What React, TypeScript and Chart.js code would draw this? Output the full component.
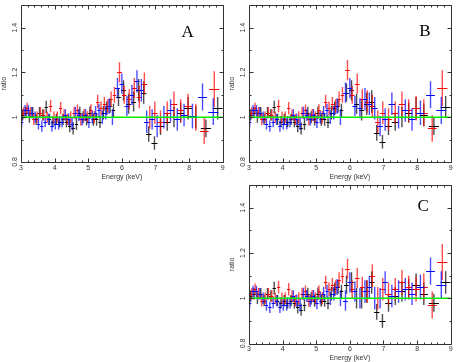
import React, { useEffect, useRef } from "react";
import { Chart, registerables } from "chart.js";

Chart.register(...registerables);

const FONT = '"Liberation Sans", Arial, sans-serif';

// axis ticks
const xTickValues = [3, 4, 5, 6, 7, 8, 9];
const xTickLabels = ["3", "4", "5", "6", "7", "8", "9"];
const yTickValues = [0.8, 1.0, 1.2, 1.4];
const yTickLabels = ["0.8", "1", "1.2", "1.4"];
const unityEnergy = [3, 9];
const unityRatio = [1, 1];

// black series
const blackEnergy = [3.05, 3.15, 3.25, 3.35, 3.45, 3.55, 3.65, 3.75, 3.85, 3.95, 4.05, 4.15, 4.25, 4.35, 4.45, 4.55, 4.65, 4.75, 4.85, 4.95, 5.05, 5.15, 5.25, 5.35, 5.45, 5.55, 5.65, 5.75, 5.9, 6.05, 6.2, 6.35, 6.5, 6.65, 6.8, 6.97, 7.15, 7.35, 7.55, 7.75, 7.97, 8.2, 8.5, 8.85];
const blackXErr = [0.05, 0.05, 0.05, 0.05, 0.05, 0.05, 0.05, 0.05, 0.05, 0.05, 0.05, 0.05, 0.05, 0.05, 0.05, 0.05, 0.05, 0.05, 0.05, 0.05, 0.05, 0.05, 0.05, 0.05, 0.05, 0.05, 0.05, 0.05, 0.07, 0.07, 0.07, 0.07, 0.08, 0.08, 0.08, 0.09, 0.1, 0.1, 0.1, 0.1, 0.12, 0.12, 0.15, 0.15];
const blackYErr = [0.025, 0.025, 0.025, 0.025, 0.025, 0.025, 0.025, 0.028, 0.025, 0.025, 0.025, 0.025, 0.025, 0.025, 0.027, 0.027, 0.027, 0.027, 0.027, 0.027, 0.028, 0.028, 0.028, 0.028, 0.03, 0.03, 0.03, 0.03, 0.04, 0.045, 0.045, 0.045, 0.05, 0.05, 0.035, 0.03, 0.04, 0.04, 0.045, 0.045, 0.05, 0.05, 0.04, 0.05];
const blackLowRatio = [1.01, 1.02, 1.0, 1.02, 0.99, 1.02, 1.01, 1.045, 0.99, 0.98, 0.99, 0.98, 0.99, 0.98, 0.96, 0.95, 0.97, 1.02, 1.0, 0.99, 1.02, 0.99, 0.99, 0.98, 1.02, 1.04, 1.05, 1.03];
const blackHighRatioA = [1.09, 1.12, 1.06, 1.07, 1.12, 1.11, 0.925, 0.885, 0.96, 0.98, 1.0, 1.02, 1.04, 1.0, 0.95, 1.04];
const blackHighRatioB = [1.11, 1.12, 1.06, 1.03, 1.06, 1.07, 0.93, 0.89, 0.96, 0.98, 1.0, 1.02, 1.04, 1.01, 0.96, 1.045];
const blackHighRatioC = [1.06, 1.07, 1.0, 1.0, 1.03, 1.07, 0.94, 0.9, 0.98, 1.01, 1.03, 1.04, 1.06, 1.02, 0.98, 1.07];

// red series
const redEnergy = [3.08, 3.18, 3.28, 3.38, 3.48, 3.58, 3.68, 3.78, 3.88, 3.98, 4.08, 4.18, 4.28, 4.38, 4.48, 4.58, 4.68, 4.78, 4.88, 4.98, 5.08, 5.18, 5.28, 5.38, 5.48, 5.58, 5.68, 5.78, 5.93, 6.07, 6.22, 6.37, 6.52, 6.67, 6.83, 6.98, 7.15, 7.35, 7.55, 7.75, 7.97, 8.2, 8.45, 8.75];
const redXErr = [0.05, 0.05, 0.05, 0.05, 0.05, 0.05, 0.05, 0.05, 0.05, 0.05, 0.05, 0.05, 0.05, 0.05, 0.05, 0.05, 0.05, 0.05, 0.05, 0.05, 0.05, 0.05, 0.05, 0.05, 0.05, 0.05, 0.05, 0.05, 0.07, 0.07, 0.07, 0.07, 0.08, 0.08, 0.08, 0.08, 0.1, 0.1, 0.1, 0.1, 0.12, 0.12, 0.13, 0.15];
const redYErr = [0.025, 0.025, 0.025, 0.025, 0.025, 0.025, 0.025, 0.025, 0.028, 0.025, 0.025, 0.028, 0.025, 0.025, 0.027, 0.027, 0.027, 0.027, 0.027, 0.027, 0.028, 0.028, 0.03, 0.03, 0.03, 0.03, 0.035, 0.035, 0.045, 0.04, 0.045, 0.045, 0.05, 0.05, 0.05, 0.05, 0.05, 0.05, 0.055, 0.05, 0.055, 0.06, 0.06, 0.08];
const redLowRatio = [1.02, 1.04, 1.02, 0.99, 1.0, 1.02, 1.01, 1.0, 1.05, 1.0, 1.0, 1.04, 1.01, 0.99, 1.0, 1.02, 1.03, 0.99, 1.01, 1.0, 1.03, 1.0, 1.07, 1.04, 1.06, 1.05, 1.08, 1.1];
const redHighRatioA = [1.2, 1.1, 1.08, 1.13, 1.09, 1.15, 1.0, 1.02, 0.98, 1.02, 1.06, 1.03, 1.05, 1.0, 0.94, 1.125];
const redHighRatioB = [1.21, 1.1, 1.15, 1.08, 1.07, 1.05, 0.98, 1.02, 0.99, 1.02, 1.06, 1.03, 1.04, 1.02, 0.95, 1.13];
const redHighRatioC = [1.13, 1.04, 1.09, 1.05, 1.03, 1.1, 1.0, 1.04, 1.02, 1.04, 1.07, 1.05, 1.04, 1.05, 0.97, 1.16];

// blue series
const blueEnergy = [3.02, 3.12, 3.22, 3.32, 3.42, 3.52, 3.62, 3.72, 3.82, 3.92, 4.02, 4.12, 4.22, 4.32, 4.42, 4.52, 4.62, 4.72, 4.82, 4.92, 5.02, 5.12, 5.22, 5.32, 5.42, 5.52, 5.62, 5.72, 5.87, 6.0, 6.15, 6.3, 6.45, 6.58, 6.74, 6.9, 7.05, 7.25, 7.45, 7.65, 7.85, 8.1, 8.4, 8.72];
const blueXErr = [0.05, 0.05, 0.05, 0.05, 0.05, 0.05, 0.05, 0.05, 0.05, 0.05, 0.05, 0.05, 0.05, 0.05, 0.05, 0.05, 0.05, 0.05, 0.05, 0.05, 0.05, 0.05, 0.05, 0.05, 0.05, 0.05, 0.05, 0.05, 0.07, 0.07, 0.07, 0.07, 0.07, 0.07, 0.08, 0.08, 0.08, 0.1, 0.1, 0.1, 0.1, 0.12, 0.13, 0.15];
const blueYErr = [0.025, 0.025, 0.025, 0.025, 0.025, 0.025, 0.025, 0.025, 0.025, 0.025, 0.025, 0.025, 0.025, 0.025, 0.027, 0.027, 0.027, 0.027, 0.027, 0.027, 0.028, 0.028, 0.03, 0.03, 0.03, 0.03, 0.035, 0.035, 0.045, 0.045, 0.045, 0.045, 0.05, 0.05, 0.05, 0.045, 0.05, 0.05, 0.05, 0.05, 0.05, 0.055, 0.06, 0.06];
const blueLowRatio = [0.98, 1.03, 1.03, 1.02, 1.0, 0.97, 0.96, 0.98, 0.99, 0.96, 0.97, 0.97, 0.98, 1.01, 0.99, 0.97, 1.02, 1.01, 0.99, 1.01, 0.98, 1.0, 1.02, 1.03, 1.0, 1.02, 1.05, 1.0];
const blueHighRatioA = [1.13, 1.15, 1.05, 1.1, 1.16, 1.12, 0.98, 0.99, 0.96, 1.0, 1.03, 0.99, 1.01, 1.005, 1.09, 1.025];
const blueHighRatioB = [1.11, 1.13, 1.05, 1.04, 1.08, 1.06, 1.04, 0.96, 0.99, 1.06, 1.0, 1.03, 0.99, 1.02, 1.1, 1.03];
const blueHighRatioC = [0.99, 1.07, 1.03, 1.0, 1.03, 1.05, 1.0, 1.0, 1.07, 1.01, 1.03, 1.04, 1.02, 1.05, 1.12, 1.06];

// panel labels (letter, energy, ratio)
const panelLetters = ["A", "B", "C"];
const letterEnergy = [7.96, 8.23, 8.18];
const letterRatio = [1.378, 1.383, 1.405];

const COLORS = { black: "#000000", red: "#ff0000", blue: "#0000ff", unity: "#00ee00", frame: "#333333", text: "#333333" };

type PanelProps = {
  index: number;
  black: number[];
  red: number[];
  blue: number[];
  left: number;
  top: number;
  width: number;
  height: number;
  padTop: number;
  padRight: number;
  xHeight: number;
  titlePad: number;
};

function toPoints(xs: number[], ys: number[]) {
  return xs.map((x, i) => ({ x, y: ys[i] }));
}

function Panel(p: PanelProps) {
  const ref = useRef<HTMLCanvasElement | null>(null);
  useEffect(() => {
    if (!ref.current) return;
    const errorBars = {
      id: "errorBars",
      beforeDatasetsDraw(chart: any) {
        const { ctx, chartArea, scales } = chart;
        const xs = scales.x;
        const ys = scales.y;
        ctx.save();
        ctx.beginPath();
        ctx.rect(chartArea.left, chartArea.top, chartArea.right - chartArea.left, chartArea.bottom - chartArea.top);
        ctx.clip();
        chart.data.datasets.forEach((ds: any) => {
          if (!ds.xErr) return;
          ctx.strokeStyle = ds.barColor;
          // vertical (ratio) error bars: soft
          ctx.globalAlpha = 0.7;
          ctx.lineWidth = 1.4;
          ctx.beginPath();
          ds.data.forEach((pt: any, i: number) => {
            const px = xs.getPixelForValue(pt.x);
            ctx.moveTo(px, ys.getPixelForValue(pt.y - ds.yErr[i]));
            ctx.lineTo(px, ys.getPixelForValue(pt.y + ds.yErr[i]));
          });
          ctx.stroke();
          // horizontal (energy) bin bars: crisp
          ctx.globalAlpha = 1;
          ctx.lineWidth = 1;
          ctx.beginPath();
          ds.data.forEach((pt: any, i: number) => {
            const py = Math.round(ys.getPixelForValue(pt.y)) + 0.5;
            ctx.moveTo(xs.getPixelForValue(pt.x - ds.xErr[i]), py);
            ctx.lineTo(xs.getPixelForValue(pt.x + ds.xErr[i]), py);
          });
          ctx.stroke();
        });
        ctx.restore();
      },
    };
    const frame = {
      id: "frame",
      afterDraw(chart: any) {
        const { ctx, chartArea, scales } = chart;
        const xs = scales.x;
        const ys = scales.y;
        const l = Math.round(chartArea.left) + 0.5;
        const r = Math.round(chartArea.right) + 0.5;
        const t = Math.round(chartArea.top) + 0.5;
        const b = Math.round(chartArea.bottom) + 0.5;
        ctx.save();
        ctx.strokeStyle = COLORS.frame;
        ctx.lineWidth = 1;
        ctx.beginPath();
        ctx.rect(l, t, r - l, b - t);
        for (let k = 0; k <= 30; k++) {
          const v = xs.min + k * 0.2;
          const px = Math.round(xs.getPixelForValue(v)) + 0.5;
          const len = k % 5 === 0 ? 4 : 2;
          ctx.moveTo(px, b);
          ctx.lineTo(px, b - len);
          ctx.moveTo(px, t);
          ctx.lineTo(px, t + len);
        }
        for (let k = 0; k <= 7; k++) {
          const v = ys.min + k * 0.1;
          const py = Math.round(ys.getPixelForValue(v)) + 0.5;
          const len = k % 2 === 0 ? 4 : 2;
          ctx.moveTo(l, py);
          ctx.lineTo(l + len, py);
          ctx.moveTo(r, py);
          ctx.lineTo(r - len, py);
        }
        ctx.stroke();
        ctx.fillStyle = "#000";
        ctx.font = '17px "Liberation Serif", "Times New Roman", serif';
        ctx.textAlign = "center";
        ctx.textBaseline = "middle";
        ctx.fillText(
          panelLetters[p.index],
          xs.getPixelForValue(letterEnergy[p.index]),
          ys.getPixelForValue(letterRatio[p.index])
        );
        ctx.restore();
      },
    };
    const tickFont = { family: FONT, size: 7 };
    const chart = new Chart(ref.current, {
      type: "scatter",
      data: {
        datasets: [
          {
            type: "line",
            data: toPoints(unityEnergy, unityRatio),
            borderColor: COLORS.unity,
            borderWidth: 1.5,
            pointRadius: 0,
            fill: false,
          } as any,
          { data: toPoints(blackEnergy, p.black), xErr: blackXErr, yErr: blackYErr, barColor: COLORS.black, pointRadius: 0 } as any,
          { data: toPoints(redEnergy, p.red), xErr: redXErr, yErr: redYErr, barColor: COLORS.red, pointRadius: 0 } as any,
          { data: toPoints(blueEnergy, p.blue), xErr: blueXErr, yErr: blueYErr, barColor: COLORS.blue, pointRadius: 0 } as any,
        ],
      },
      options: {
        animation: false,
        responsive: false,
        devicePixelRatio: 1,
        events: [],
        layout: { padding: { top: p.padTop, right: p.padRight, left: 0, bottom: 0 } },
        plugins: { legend: { display: false }, tooltip: { enabled: false } },
        scales: {
          x: {
            type: "linear",
            min: 3,
            max: 9,
            grid: { display: false, drawTicks: false },
            border: { display: false },
            afterBuildTicks: (s: any) => {
              s.ticks = xTickValues.map((v) => ({ value: v }));
            },
            afterFit: (s: any) => {
              s.height = p.xHeight;
            },
            ticks: {
              font: tickFont,
              color: COLORS.text,
              padding: 1.5,
              maxRotation: 0,
              minRotation: 0,
              autoSkip: false,
              callback: (_v: any, i: number) => xTickLabels[i],
            },
            title: {
              display: true,
              text: "Energy (keV)",
              font: tickFont,
              color: COLORS.text,
              padding: { top: 0, bottom: p.titlePad },
            },
          },
          y: {
            type: "linear",
            min: 0.8,
            max: 1.5,
            grid: { display: false, drawTicks: false },
            border: { display: false },
            afterBuildTicks: (s: any) => {
              s.ticks = yTickValues.map((v) => ({ value: v }));
            },
            afterFit: (s: any) => {
              s.width = 21;
            },
            ticks: {
              font: tickFont,
              color: COLORS.text,
              padding: 1,
              minRotation: 90,
              maxRotation: 90,
              crossAlign: "center",
              autoSkip: false,
              callback: (_v: any, i: number) => yTickLabels[i],
            },
            title: {
              display: true,
              text: "ratio",
              font: tickFont,
              color: COLORS.text,
              padding: { top: 0, bottom: 0 },
            },
          },
        },
      },
      plugins: [errorBars, frame],
    } as any);
    return () => chart.destroy();
  }, []);
  return (
    <div style={{ position: "absolute", left: p.left, top: p.top, width: p.width, height: p.height }}>
      <canvas ref={ref} width={p.width} height={p.height} style={{ display: "block", width: p.width, height: p.height }} />
    </div>
  );
}

export default function App() {
  return (
    <div style={{ position: "absolute", left: 0, top: 0, width: 457, height: 362, background: "#fff" }}>
      <Panel
        index={0}
        black={[...blackLowRatio, ...blackHighRatioA]}
        red={[...redLowRatio, ...redHighRatioA]}
        blue={[...blueLowRatio, ...blueHighRatioA]}
        left={0}
        top={0}
        width={228}
        height={182}
        padTop={1}
        padRight={5.3}
        xHeight={20}
        titlePad={1}
      />
      <Panel
        index={1}
        black={[...blackLowRatio, ...blackHighRatioB]}
        red={[...redLowRatio, ...redHighRatioB]}
        blue={[...blueLowRatio, ...blueHighRatioB]}
        left={228}
        top={0}
        width={229}
        height={182}
        padTop={1}
        padRight={6.3}
        xHeight={20}
        titlePad={1}
      />
      <Panel
        index={2}
        black={[...blackLowRatio, ...blackHighRatioC]}
        red={[...redLowRatio, ...redHighRatioC]}
        blue={[...blueLowRatio, ...blueHighRatioC]}
        left={228}
        top={180}
        width={229}
        height={182}
        padTop={4.5}
        padRight={6.3}
        xHeight={18.5}
        titlePad={0}
      />
    </div>
  );
}
